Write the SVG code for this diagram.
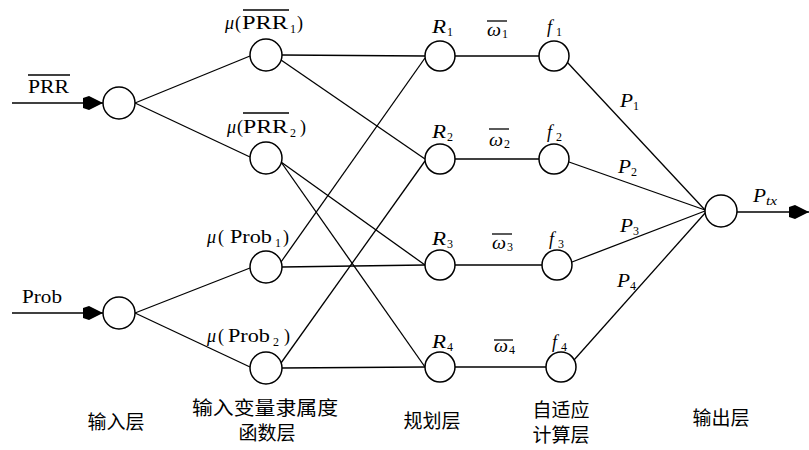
<svg xmlns="http://www.w3.org/2000/svg" width="809" height="450" viewBox="0 0 809 450">
<style>
.n{fill:#fff;stroke:#000;stroke-width:1.5}
.e{stroke:#000;stroke-width:1.3;fill:none}
.h{stroke:#000;stroke-width:1.7;fill:none}
.ol{stroke:#000;stroke-width:1.3}
.t{font-family:"Liberation Serif","Times New Roman",serif;font-size:18px;font-weight:400;fill:#000}
.i{font-style:italic}
.s{font-family:"Liberation Serif","Times New Roman",serif;font-size:12px;font-weight:400;fill:#000}
.c{font-family:"Noto Sans CJK SC","Noto Sans CJK JP",sans-serif;font-size:19px;font-weight:400;fill:#000;text-anchor:middle}
</style>
<defs>
<marker id="arr" viewBox="-21 -7 21 14" refX="0" refY="0" markerWidth="21" markerHeight="14" markerUnits="userSpaceOnUse" orient="auto">
<polygon points="-20,-5 -14,-7 0,0 -14,7 -20,5" fill="#000"/>
</marker>
</defs>
<rect width="809" height="450" fill="#fff"/>
<g id="connectors">
<line class="e" x1="12" y1="103" x2="103" y2="103" marker-end="url(#arr)"/>
<line class="e" x1="12" y1="313" x2="103" y2="313" marker-end="url(#arr)"/>
<line class="e" x1="135" y1="103" x2="250" y2="56"/>
<line class="e" x1="135" y1="103" x2="250" y2="157"/>
<line class="e" x1="135" y1="313" x2="250" y2="268"/>
<line class="e" x1="135" y1="313" x2="250" y2="367"/>
<line class="h" x1="282" y1="55" x2="425" y2="56"/>
<line class="e" x1="281" y1="60" x2="425" y2="159"/>
<line class="e" x1="281" y1="162" x2="425" y2="265"/>
<line class="e" x1="281" y1="162" x2="425" y2="367"/>
<line class="h" x1="282" y1="267" x2="425" y2="265"/>
<line class="e" x1="281" y1="262" x2="425" y2="58"/>
<line class="h" x1="282" y1="368" x2="425" y2="367"/>
<line class="e" x1="281" y1="363" x2="425" y2="161"/>
<line class="h" x1="455" y1="56" x2="539" y2="56"/>
<line class="h" x1="455" y1="159" x2="539" y2="159"/>
<line class="h" x1="455" y1="265" x2="542" y2="265"/>
<line class="h" x1="455" y1="367" x2="546" y2="367"/>
<line class="e" x1="567" y1="62" x2="705" y2="210"/>
<line class="e" x1="569" y1="162" x2="705" y2="210"/>
<line class="e" x1="572" y1="262" x2="705" y2="211"/>
<line class="e" x1="574" y1="360" x2="706" y2="212"/>
<line class="e" x1="737" y1="212" x2="809" y2="212" marker-end="url(#arr)"/>
</g>
<g id="in_prr">
<circle class="n" cx="119" cy="103" r="16"/>
<text class="t" x="28" y="93" textLength="41" lengthAdjust="spacingAndGlyphs">PRR</text>
<line class="ol" x1="28" y1="75" x2="70" y2="75"/>
</g>
<g id="in_prob">
<circle class="n" cx="119" cy="313" r="16"/>
<text class="t" x="22" y="303" textLength="40" lengthAdjust="spacingAndGlyphs">Prob</text>
</g>
<g id="mu_prr1">
<circle class="n" cx="266" cy="55" r="16"/>
<text class="t i" x="225" y="29">μ</text>
<text class="t" x="235" y="29">(</text>
<text class="t" x="242" y="29" textLength="46" lengthAdjust="spacingAndGlyphs">PRR</text>
<text class="s" x="290" y="33">1</text>
<text class="t" x="297" y="29">)</text>
<line class="ol" x1="243" y1="10" x2="289" y2="10"/>
</g>
<g id="mu_prr2">
<circle class="n" cx="266" cy="158" r="16"/>
<text class="t i" x="227" y="133">μ</text>
<text class="t" x="237" y="133">(</text>
<text class="t" x="243" y="133" textLength="45" lengthAdjust="spacingAndGlyphs">PRR</text>
<text class="s" x="290" y="137">2</text>
<text class="t" x="300" y="133">)</text>
<line class="ol" x1="243" y1="113" x2="289" y2="113"/>
</g>
<g id="mu_prob1">
<circle class="n" cx="266" cy="267" r="16"/>
<text class="t i" x="207" y="243">μ</text>
<text class="t" x="218" y="243">(</text>
<text class="t" x="230" y="243" textLength="42" lengthAdjust="spacingAndGlyphs">Prob</text>
<text class="s" x="275" y="247">1</text>
<text class="t" x="283" y="243">)</text>
</g>
<g id="mu_prob2">
<circle class="n" cx="266" cy="368" r="16"/>
<text class="t i" x="207" y="342">μ</text>
<text class="t" x="218" y="342">(</text>
<text class="t" x="228" y="342" textLength="42" lengthAdjust="spacingAndGlyphs">Prob</text>
<text class="s" x="273" y="346">2</text>
<text class="t" x="284" y="342">)</text>
</g>
<g id="r1">
<circle class="n" cx="440" cy="56" r="15"/>
<text class="t i" x="432" y="33" textLength="14" lengthAdjust="spacingAndGlyphs">R</text>
<text class="s" x="447" y="36">1</text>
</g>
<g id="r2">
<circle class="n" cx="440" cy="159" r="15"/>
<text class="t i" x="432" y="138" textLength="14" lengthAdjust="spacingAndGlyphs">R</text>
<text class="s" x="447" y="141">2</text>
</g>
<g id="r3">
<circle class="n" cx="440" cy="265" r="15"/>
<text class="t i" x="432" y="245" textLength="14" lengthAdjust="spacingAndGlyphs">R</text>
<text class="s" x="447" y="248">3</text>
</g>
<g id="r4">
<circle class="n" cx="440" cy="367" r="15"/>
<text class="t i" x="432" y="348" textLength="14" lengthAdjust="spacingAndGlyphs">R</text>
<text class="s" x="447" y="351">4</text>
</g>
<g id="w1">
<text class="t i" x="487" y="36" textLength="14" lengthAdjust="spacingAndGlyphs">ω</text>
<text class="s" x="502" y="38">1</text>
<line class="ol" x1="487" y1="21" x2="507" y2="21"/>
</g>
<g id="w2">
<text class="t i" x="489" y="146" textLength="14" lengthAdjust="spacingAndGlyphs">ω</text>
<text class="s" x="504" y="148">2</text>
<line class="ol" x1="489" y1="129" x2="509" y2="129"/>
</g>
<g id="w3">
<text class="t i" x="492" y="249" textLength="14" lengthAdjust="spacingAndGlyphs">ω</text>
<text class="s" x="507" y="251">3</text>
<line class="ol" x1="492" y1="234" x2="512" y2="234"/>
</g>
<g id="w4">
<text class="t i" x="494" y="352" textLength="14" lengthAdjust="spacingAndGlyphs">ω</text>
<text class="s" x="509" y="354">4</text>
<line class="ol" x1="494" y1="340" x2="513" y2="340"/>
</g>
<g id="f1">
<circle class="n" cx="554" cy="56" r="15"/>
<text class="t i" x="547" y="33">f</text>
<text class="s" x="556" y="36">1</text>
</g>
<g id="f2">
<circle class="n" cx="554" cy="159" r="15"/>
<text class="t i" x="547" y="138">f</text>
<text class="s" x="556" y="141">2</text>
</g>
<g id="f3">
<circle class="n" cx="557" cy="265" r="15"/>
<text class="t i" x="549" y="245">f</text>
<text class="s" x="558" y="248">3</text>
</g>
<g id="f4">
<circle class="n" cx="561" cy="367" r="15"/>
<text class="t i" x="552" y="348">f</text>
<text class="s" x="561" y="351">4</text>
</g>
<g id="plabels">
<text class="t i" x="620" y="107" textLength="13" lengthAdjust="spacingAndGlyphs">P</text>
<text class="s" x="633" y="110">1</text>
<text class="t i" x="618" y="173" textLength="13" lengthAdjust="spacingAndGlyphs">P</text>
<text class="s" x="631" y="176">2</text>
<text class="t i" x="620" y="232" textLength="13" lengthAdjust="spacingAndGlyphs">P</text>
<text class="s" x="633" y="235">3</text>
<text class="t i" x="617" y="287" textLength="13" lengthAdjust="spacingAndGlyphs">P</text>
<text class="s" x="630" y="290">4</text>
</g>
<g id="out">
<circle class="n" cx="721" cy="211" r="16"/>
<text class="t i" x="753" y="202" textLength="13" lengthAdjust="spacingAndGlyphs">P</text>
<text class="s i" x="766" y="205" textLength="11" lengthAdjust="spacingAndGlyphs">tx</text>
</g>
<g id="layer_labels">
<text class="c" x="116" y="429">输入层</text>
<text class="c" x="265" y="415" textLength="146" lengthAdjust="spacingAndGlyphs">输入变量隶属度</text>
<text class="c" x="267" y="440">函数层</text>
<text class="c" x="432" y="428">规划层</text>
<text class="c" x="561" y="417">自适应</text>
<text class="c" x="561" y="442">计算层</text>
<text class="c" x="721" y="425">输出层</text>
</g>
</svg>
